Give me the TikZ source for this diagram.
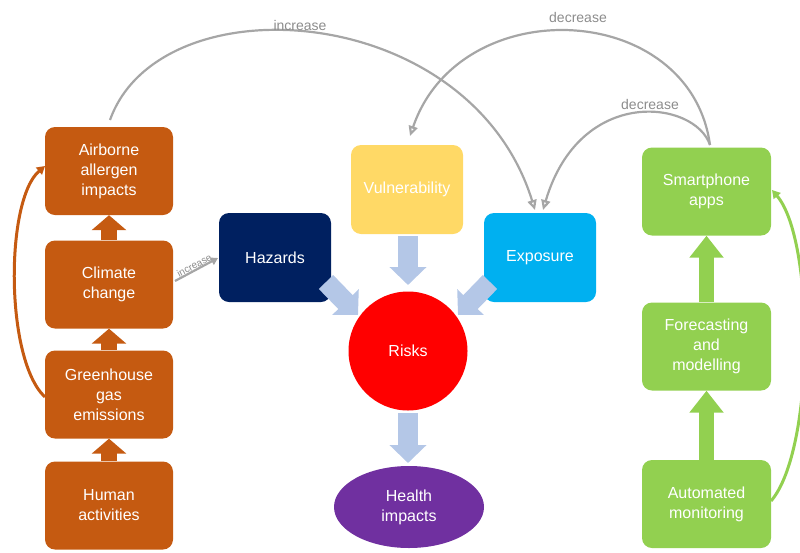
\documentclass[tikz,border=0pt]{standalone}
\usepackage{fontspec}
\setmainfont{Liberation Sans}
\usetikzlibrary{arrows.meta,shapes.geometric}
\definecolor{corange}{HTML}{C55A11}
\definecolor{cnavy}{HTML}{002060}
\definecolor{cyellow}{HTML}{FFD966}
\definecolor{ccyan}{HTML}{00B0F0}
\definecolor{cred}{HTML}{FF0000}
\definecolor{cpurple}{HTML}{7030A0}
\definecolor{cgreen}{HTML}{92D050}
\definecolor{cblue}{HTML}{B4C7E7}
\definecolor{cgray}{HTML}{A6A6A6}
\definecolor{ctext}{HTML}{8C8C8C}
\tikzset{
  box/.style={rounded corners=10pt, minimum width=128pt, minimum height=88pt, text=white, align=center, font=\fontsize{16}{20}\selectfont, inner sep=2pt},
  obox/.style={box, fill=corange},
  gbox/.style={box, fill=cgreen, minimum width=129pt},
  cbox/.style={box, minimum width=112pt, minimum height=89pt},
  fatorange/.style={draw=corange, line width=16pt, -{Triangle[width=34pt,length=15pt]}},
  fatgreen/.style={draw=cgreen, line width=15pt, -{Triangle[width=33pt,length=22pt]}},
  fatblue/.style={draw=cblue, line width=20pt, -{Triangle[width=36pt,length=18pt]}},
  grayarc/.style={draw=cgray, line width=2.2pt, -{Stealth[length=10pt,width=9pt,inset=0pt,open]}},
  lbl/.style={text=ctext, font=\fontsize{14}{16}\selectfont},
}
\begin{document}
\begin{tikzpicture}[x=1pt,y=-1pt]
\useasboundingbox (0,0) rectangle (800,552);
% left column
\node[obox] (air) at (109,171) {Airborne\\allergen\\impacts};
\node[obox] (clim) at (109,284.5) {Climate\\change};
\node[obox] (ghg) at (109,394.5) {Greenhouse\\gas\\emissions};
\node[obox] (hum) at (109,505.5) {Human\\activities};
\draw[fatorange] (hum.north) -- (ghg.south);
\draw[fatorange] (ghg.north) -- (clim.south);
\draw[fatorange] (clim.north) -- (air.south);
\coordinate (ghgL) at (45,397);
\coordinate (airL) at (45,166);
\draw[draw=corange, line width=3pt, -{Triangle[width=9pt,length=8pt]}] (ghgL) .. controls (5,360) and (5,200) .. (airL);
% center
\node[cbox, fill=cnavy] (haz) at (275,257.5) {Hazards};
\node[cbox, fill=cyellow] (vul) at (407,189.5) {Vulnerability};
\node[cbox, fill=ccyan] (exp) at (540,257.5) {Exposure};
\node[circle, fill=cred, minimum size=119pt, text=white, font=\fontsize{16}{20}\selectfont] (risk) at (408,351) {Risks};
\node[ellipse, fill=cpurple, minimum width=150pt, minimum height=82pt, text=white, align=center, font=\fontsize{16}{20}\selectfont, inner sep=0pt] (health) at (409,507) {Health\\impacts};
\coordinate (vulB) at (408,236);
\coordinate (vulT) at (408,285);
\draw[fatblue] (vulB) -- (vulT);
\coordinate (riskB) at (408,413);
\coordinate (healthT) at (408,463);
\draw[fatblue] (riskB) -- (healthT);
\coordinate (hazA) at (326,282);
\coordinate (hazT) at (358,315);
\draw[fatblue] (hazA) -- (hazT);
\coordinate (expA) at (490,282);
\coordinate (expT) at (458,315);
\draw[fatblue] (expA) -- (expT);
% climate -> hazards
\coordinate (climR) at (175,281);
\coordinate (hazL) at (218,258);
\draw[draw=cgray, line width=2.2pt, -{Triangle[width=8pt,length=7pt]}] (climR) -- (hazL)
  node[pos=0.5, sloped, above=0pt, inner sep=0pt, text=ctext, font=\fontsize{10}{11}\selectfont] (lc) {increase};
% right column
\node[gbox] (app) at (706.5,191.5) {Smartphone\\apps};
\node[gbox] (fore) at (706.5,346.5) {Forecasting\\and\\modelling};
\node[gbox] (auto) at (706.5,504) {Automated\\monitoring};
\draw[fatgreen] (auto.north) -- (fore.south);
\draw[fatgreen] (fore.north) -- (app.south);
\coordinate (autoR) at (771,501);
\coordinate (appR) at (772,190);
\draw[draw=cgreen, line width=3pt, -{Triangle[width=9pt,length=8pt]}] (autoR) .. controls (815,450) and (815,240) .. (appR);
% gray arcs
\coordinate (airT) at (110,120);
\coordinate (expT1) at (535,210);
\coordinate (appT) at (710,145);
\coordinate (vulT2) at (410,136);
\coordinate (expT2) at (543,210);
\draw[grayarc] (airT) .. controls (160,-20) and (470,0) .. (expT1);
\draw[grayarc] (appT) .. controls (690,0) and (460,-10) .. (vulT2);
\draw[grayarc] (appT) .. controls (695,100) and (580,85) .. (expT2);
\node[lbl] (l1) at (300,25) {increase};
\node[lbl] (l2) at (578,17) {decrease};
\node[lbl] (l3) at (650,104) {decrease};
\end{tikzpicture}
\end{document}
